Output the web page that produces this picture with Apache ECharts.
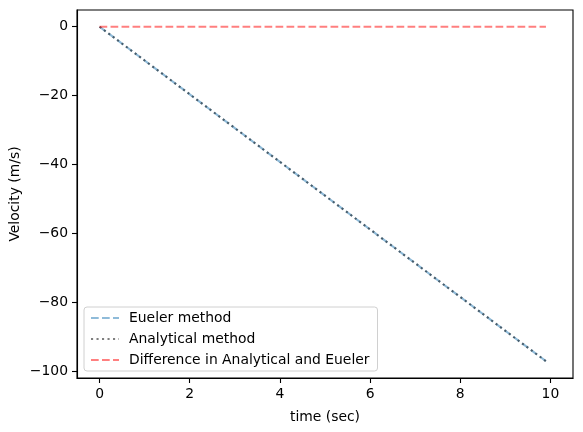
<!DOCTYPE html>
<html>
<head>
<meta charset="utf-8">
<script src="https://cdn.jsdelivr.net/npm/echarts@6/dist/echarts.min.js"></script>
<style>html,body{margin:0;padding:0;background:#fff}#c{width:583px;height:432px}</style>
</head>
<body>
<div id="c"></div>
<script>
const time = [0, 1, 2, 3, 4, 5, 6, 7, 8, 9, 9.9];
const eulerV = [0, -9.81, -19.62, -29.43, -39.24, -49.05, -58.86, -68.67, -78.48, -88.29, -97.12];
const analyticalV = [0, -9.81, -19.62, -29.43, -39.24, -49.05, -58.86, -68.67, -78.48, -88.29, -97.12];
const diffV = [0, 0, 0, 0, 0, 0, 0, 0, 0, 0, 0];
const xTicks = [0, 2, 4, 6, 8, 10];
const yTicks = [-100, -80, -60, -40, -20, 0];
const seriesNames = ['Eueler method', 'Analytical method', 'Difference in Analytical and Eueler'];

const FONT = 'DejaVu Sans';
const FS = 13.9;
const pair = (xs, ys) => xs.map((x, i) => [x, ys[i]]);
const fmt = v => String(v).replace('-', '\u2212');

const chart = echarts.init(document.getElementById('c'));
chart.setOption({
  animation: false,
  backgroundColor: '#fff',
  textStyle: { fontFamily: FONT },
  grid: { left: 77, right: 10, top: 10, bottom: 54, containLabel: false, outerBoundsMode: 'none',
          show: true, borderColor: '#000', borderWidth: 1.1, backgroundColor: 'transparent' },
  legend: {
    orient: 'vertical', left: 84, top: 307,
    data: seriesNames,
    itemWidth: 28, itemHeight: 14, itemGap: 7,
    padding: [4, 8, 4, 6],
    borderColor: '#d0d0d0', borderWidth: 1, borderRadius: 3,
    backgroundColor: 'rgba(255,255,255,0.8)',
    itemStyle: { opacity: 0, borderWidth: 0 },
    textStyle: { fontFamily: FONT, fontSize: FS, color: '#000', padding: [0, 0, 0, 5] }
  },
  xAxis: {
    type: 'value', min: -0.5, max: 10.5,
    name: 'time (sec)', nameLocation: 'middle', nameGap: 32, nameMoveOverlap: false,
    nameTextStyle: { fontFamily: FONT, fontSize: FS, color: '#000' },
    axisLine: { show: true, onZero: false, lineStyle: { color: '#000', width: 1.1 } },
    axisTick: { show: true, inside: false, length: 5, customValues: xTicks, lineStyle: { color: '#000', width: 1.1 } },
    axisLabel: { customValues: xTicks, margin: 9, fontFamily: FONT, fontSize: FS, color: '#000', formatter: fmt },
    splitLine: { show: false }
  },
  yAxis: {
    type: 'value', min: -102, max: 4.86,
    name: 'Velocity (m/s)', nameLocation: 'middle', nameGap: 55, nameMoveOverlap: false,
    nameTextStyle: { fontFamily: FONT, fontSize: FS, color: '#000' },
    axisLine: { show: true, onZero: false, lineStyle: { color: '#000', width: 1.1 } },
    axisTick: { show: true, inside: false, length: 5, customValues: yTicks, lineStyle: { color: '#000', width: 1.1 } },
    axisLabel: { customValues: yTicks, margin: 9, fontFamily: FONT, fontSize: FS, color: '#000', formatter: fmt },
    splitLine: { show: false }
  },
  series: [
    { name: seriesNames[0], type: 'line', data: pair(time, eulerV), symbol: 'none',
      color: 'rgba(31,119,180,0.5)',
      lineStyle: { color: 'rgba(31,119,180,0.5)', width: 2.1, type: [7.7, 3.3] } },
    { name: seriesNames[1], type: 'line', data: pair(time, analyticalV), symbol: 'none',
      color: 'rgba(0,0,0,0.5)',
      lineStyle: { color: 'rgba(0,0,0,0.5)', width: 2.1, type: [2.1, 3.4] } },
    { name: seriesNames[2], type: 'line', data: pair(time, diffV), symbol: 'none',
      color: 'rgba(255,0,0,0.5)',
      lineStyle: { color: 'rgba(255,0,0,0.5)', width: 2.1, type: [7.7, 3.3] } }
  ]
});
</script>
</body>
</html>
